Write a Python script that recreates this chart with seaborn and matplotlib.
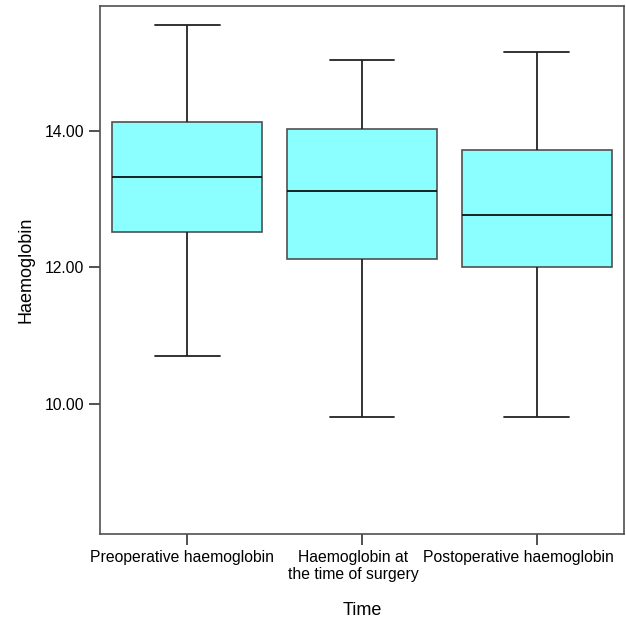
import numpy as np
import pandas as pd
import matplotlib
matplotlib.use("Agg")
import matplotlib.pyplot as plt
import matplotlib.transforms as mtransforms
import seaborn as sns

categories = ["Preoperative haemoglobin", "Haemoglobin at\nthe time of surgery", "Postoperative haemoglobin"]
# five-number summaries: min, Q1, median, Q3, max
mins = [10.70, 9.81, 9.81]
q1s = [12.52, 12.12, 12.01]
medians = [13.33, 13.12, 12.77]
q3s = [14.13, 14.03, 13.73]
maxs = [15.56, 15.05, 15.17]
yticks = [10.0, 12.0, 14.0]
ytick_labels = ["10.00", "12.00", "14.00"]

rows = []
for c, a, b, m, d, e in zip(categories, mins, q1s, medians, q3s, maxs):
    for v in (a, b, m, d, e):
        rows.append({"Time": c, "Haemoglobin": v})
df = pd.DataFrame(rows)

sns.set_style("white")
plt.rcParams["font.family"] = ["Liberation Sans", "DejaVu Sans"]
plt.rcParams["text.color"] = "black"
plt.rcParams["axes.labelcolor"] = "black"
plt.rcParams["xtick.labelcolor"] = "black"
plt.rcParams["ytick.labelcolor"] = "black"

fig = plt.figure(figsize=(6.26, 6.19), dpi=100)
ax = fig.add_axes([100/626, 1-534/619, 524/626, 528/619])

BOXW = 0.86
sns.boxplot(data=df, x="Time", y="Haemoglobin", ax=ax, whis=(0, 100),
            width=BOXW, color="#8bffff", saturation=1, linewidth=1.2,
            boxprops=dict(edgecolor="#505050", facecolor="#8bffff", linewidth=1.2),
            whiskerprops=dict(color="#222222", linewidth=1.3),
            capprops=dict(color="#222222", linewidth=1.3),
            medianprops=dict(color="#111111", linewidth=1.3),
            showfliers=False)

# narrow the whisker caps to match the reference style
for ln in ax.lines:
    xd = np.asarray(ln.get_xdata(), dtype=float)
    yd = np.asarray(ln.get_ydata(), dtype=float)
    if len(xd) == 2 and np.isclose(yd[0], yd[1]) and abs(abs(xd[1] - xd[0]) - BOXW / 2) < 1e-6:
        c = xd.mean()
        ln.set_xdata([c - 0.186, c + 0.186])

ax.set_xlim(-0.5, 2.5)
ax.set_ylim(8.085, 15.84)
ax.set_yticks(yticks)
ax.set_yticklabels(ytick_labels)
for s in ax.spines.values():
    s.set_color("#505050")
    s.set_linewidth(1.2)
ax.tick_params(axis="both", which="major", length=8, width=1.2, color="#333333",
               direction="out", labelsize=11.3, pad=3.5, left=True, bottom=True,
               labelcolor="black")
ax.set_xlabel("Time", fontsize=13, labelpad=14, color="black")
ax.set_ylabel("Haemoglobin", fontsize=13, labelpad=7, color="black")

# shift x tick labels left so they fit inside the figure, as in the reference
shifts_px = [-5, -9, -18]
for lab, dx in zip(ax.get_xticklabels(), shifts_px):
    lab.set_transform(lab.get_transform() + mtransforms.ScaledTranslation(dx / 100, 0, fig.dpi_scale_trans))

fig.savefig("out.png", dpi=100)
